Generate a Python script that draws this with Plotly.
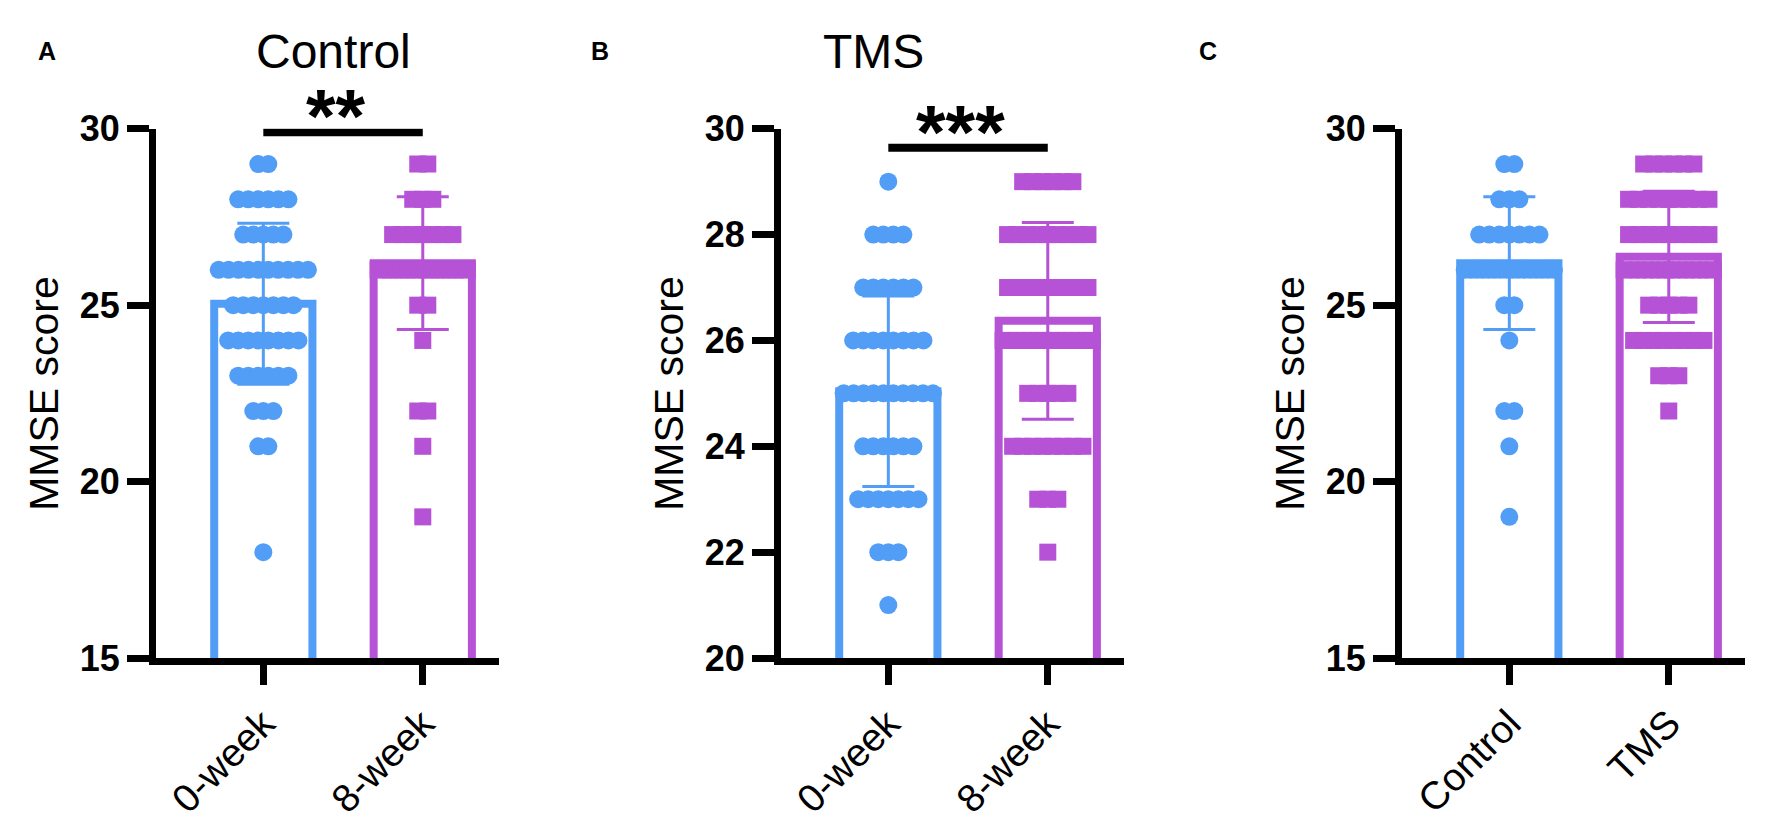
"""MMSE score bars (mean ± SD) with individual points, three panels: Control, TMS, 8-week comparison."""

import plotly.graph_objects as go

W, H = 1772, 824
BLUE = "#529DF6"
PURPLE = "#B552D5"
INK = "black"
FONT = "Liberation Sans"

# --- data ----------------------------------------------------------------------
# individual MMSE scores: score levels and how many subjects sit at each level
CTRL_0W_SCORES = [29, 28, 27, 26, 25, 24, 23, 22, 21, 18]
CTRL_0W_COUNTS = [2, 6, 5, 10, 7, 8, 6, 3, 2, 1]
CTRL_8W_SCORES = [29, 28, 27, 26, 25, 24, 22, 21, 19]
CTRL_8W_COUNTS = [2, 3, 7, 16, 2, 1, 2, 1, 1]
TMS_0W_SCORES = [29, 28, 27, 26, 25, 24, 23, 22, 21]
TMS_0W_COUNTS = [1, 4, 6, 8, 10, 6, 7, 3, 1]
TMS_8W_SCORES = [29, 28, 27, 26, 25, 24, 23, 22]
TMS_8W_COUNTS = [6, 9, 9, 14, 5, 8, 3, 1]

# bar heights (mean) and error bars (SD)
CTRL_MEANS = [25.04, 26.19]   # 0-week, 8-week
CTRL_SDS = [2.28, 1.88]
TMS_MEANS = [25.04, 26.37]
TMS_SDS = [1.80, 1.86]
WEEK8_MEANS = [26.19, 26.37]  # Control, TMS
WEEK8_SDS = [1.88, 1.86]

WEEK_LABELS = ["0-week", "8-week"]
GROUP_LABELS = ["Control", "TMS"]
TICKS_A = [15, 20, 25, 30]
TICKS_B = [20, 22, 24, 26, 28, 30]
TICKS_C = [15, 20, 25, 30]

# --- geometry -------------------------------------------------------------------
X_RANGE = [-0.673, 1.478]
Y_DOM = [1 - 663 / H, 1 - 106 / H]
PLOT_W = 343
AXIS_X = [148, 773, 1394]          # left edge of each plot area (px)
STEP = 0.063                        # horizontal spacing of stacked points (category units)
MAX_HALF = 0.28


def spread(scores, counts, center):
    xs, ys = [], []
    for s, n in zip(scores, counts):
        step = min(STEP, 2 * MAX_HALF / (n - 1)) if n > 1 else 0
        for i in range(n):
            xs.append(center + (i - (n - 1) / 2) * step)
            ys.append(s)
    return xs, ys


def label(text, x, y, size, angle=0):
    # x, y in pixels from the top-left corner
    fig.add_annotation(text=text, xref="paper", yref="paper", x=x / W, y=1 - y / H,
                       xanchor="center", yanchor="middle", textangle=angle,
                       showarrow=False, font=dict(size=size, color=INK))


fig = go.Figure()


def add_panel(k, labels, yrange, yticks, means, sds, points, symbols):
    xa, ya = f"x{k}" if k > 1 else "x", f"y{k}" if k > 1 else "y"
    colors = [BLUE, PURPLE]
    for i in range(2):
        fig.add_trace(go.Bar(
            x=[i], y=[means[i]], width=0.616, xaxis=xa, yaxis=ya,
            marker=dict(color="white", line=dict(color=colors[i], width=8)),
            error_y=dict(type="data", array=[sds[i]], color=colors[i], thickness=3, width=26),
        ))
    for i in range(2):
        xs, ys = spread(points[i][0], points[i][1], i)
        size = 18 if symbols[i] == "circle" else 17
        fig.add_trace(go.Scatter(
            x=xs, y=ys, mode="markers", xaxis=xa, yaxis=ya, cliponaxis=False,
            marker=dict(symbol=symbols[i], size=size, color=colors[i], line=dict(width=0)),
        ))
    left = AXIS_X[k - 1]
    fig.layout[f"xaxis{k if k > 1 else ''}"] = dict(
        domain=[left / W, (left + PLOT_W) / W], range=X_RANGE, anchor=ya,
        showline=True, linewidth=7, linecolor=INK, ticks="outside", ticklen=20,
        tickwidth=7, tickcolor=INK, tickvals=[0, 1], ticktext=labels, tickangle=-45,
        ticklabelstandoff=0, tickfont=dict(size=39, color=INK),
        showgrid=False, zeroline=False,
    )
    fig.layout[f"yaxis{k if k > 1 else ''}"] = dict(
        domain=Y_DOM, range=yrange, anchor=xa,
        showline=True, linewidth=7, linecolor=INK, ticks="outside", ticklen=22,
        tickwidth=7, tickcolor=INK, tickvals=yticks,
        ticktext=[f"<b>{t}</b>" for t in yticks],
        tickfont=dict(size=36, color=INK), showgrid=False, zeroline=False,
    )
    label("MMSE score", left - 112, 385, 41, angle=-90)


add_panel(1, WEEK_LABELS, [15, 30], TICKS_A, CTRL_MEANS, CTRL_SDS,
          [(CTRL_0W_SCORES, CTRL_0W_COUNTS), (CTRL_8W_SCORES, CTRL_8W_COUNTS)],
          ["circle", "square"])
add_panel(2, WEEK_LABELS, [20, 30], TICKS_B, TMS_MEANS, TMS_SDS,
          [(TMS_0W_SCORES, TMS_0W_COUNTS), (TMS_8W_SCORES, TMS_8W_COUNTS)],
          ["circle", "square"])
add_panel(3, GROUP_LABELS, [15, 30], TICKS_C, WEEK8_MEANS, WEEK8_SDS,
          [(CTRL_8W_SCORES, CTRL_8W_COUNTS), (TMS_8W_SCORES, TMS_8W_COUNTS)],
          ["circle", "square"])

# significance bars and stars
fig.add_shape(type="line", xref="x", yref="y", x0=0, x1=1, y0=29.9, y1=29.9,
              line=dict(color=INK, width=8))
fig.add_shape(type="line", xref="x2", yref="y2", x0=0, x1=1, y0=29.64, y1=29.64,
              line=dict(color=INK, width=8))
label("<b>**</b>", 328, 92, 76)
label("<b>***</b>", 952, 109, 76)

# panel titles and letters
label("Control", 325, 25, 48)
label("TMS", 865, 25, 48)
label("<b>A</b>", 39, 24, 25)
label("<b>B</b>", 592, 24, 25)
label("<b>C</b>", 1200, 24, 25)

fig.update_layout(
    width=W, height=H, margin=dict(l=0, r=0, t=0, b=0),
    paper_bgcolor="white", plot_bgcolor="white", barmode="overlay",
    showlegend=False, font=dict(family=FONT, color=INK),
)
fig.write_html("out.html")
